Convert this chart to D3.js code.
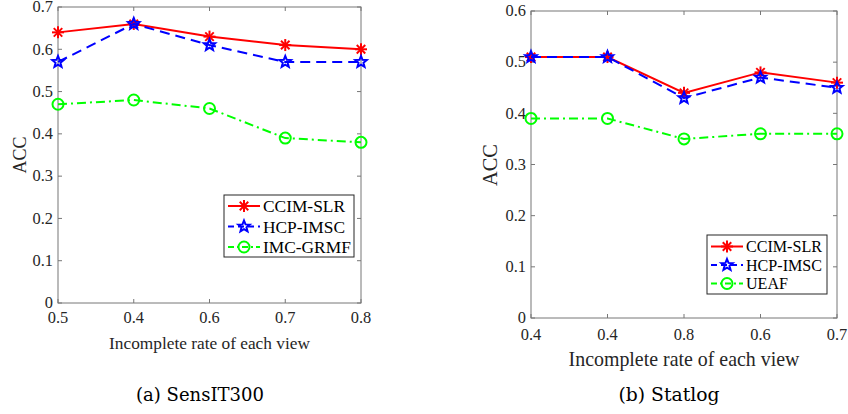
<!DOCTYPE html>
<meta charset="utf-8">
<style>

body {
  margin: 0;
  background: #fff;
}

text {
  font-family: "Liberation Serif", "Times New Roman", Times, serif;
}

text.caption {
  font-family: "DejaVu Serif", "Liberation Serif", serif;
}

</style>
<svg width="848" height="414"></svg>
<script src="https://d3js.org/d3.v7.min.js"></script>
<script>

// panel (a) SensIT300
var catsA = ["0.5", "0.4", "0.6", "0.7", "0.8"],
    ccimA = [0.64, 0.66, 0.63, 0.61, 0.60],
    hcpA = [0.57, 0.66, 0.61, 0.57, 0.57],
    imcA = [0.47, 0.48, 0.46, 0.39, 0.38],
    yTicksA = [0, 0.1, 0.2, 0.3, 0.4, 0.5, 0.6, 0.7];

// panel (b) Statlog
var catsB = ["0.4", "0.4 ", "0.8", "0.6", "0.7"],
    ccimB = [0.51, 0.51, 0.44, 0.48, 0.46],
    hcpB = [0.51, 0.51, 0.43, 0.47, 0.45],
    ueafB = [0.39, 0.39, 0.35, 0.36, 0.36],
    yTicksB = [0, 0.1, 0.2, 0.3, 0.4, 0.5, 0.6];

</script>
<script>

var svg = d3.select("svg");

var axisColor = "#777";

var styles = {
  red: {color: "#ff0000", dash: null, marker: "asterisk"},
  blue: {color: "#0000ff", dash: "10,6", marker: "star"},
  green: {color: "#00ff00", dash: "9,4,2,4", marker: "circle"}
};

// scale a text's font so that it spans about the width seen in the picture
function fit(sel, width) {
  var n = sel.node(),
      fs = +sel.attr("font-size"),
      w = n.getComputedTextLength();
  if (w > 0) sel.attr("font-size", (fs * width / w).toFixed(2));
  return sel;
}

// font size that makes "0.5" about 20.5px wide
var probe = svg.append("text").attr("font-size", 16).text("0.5");
var tickSize = 16 * 20.5 / probe.node().getComputedTextLength();
probe.remove();

function drawMarker(g, type, color, x, y) {
  if (type === "asterisk") {
    var r = 6;
    [0, 45, 90, 135].forEach(function(a) {
      var t = a * Math.PI / 180;
      g.append("line")
          .attr("x1", x - r * Math.cos(t)).attr("y1", y - r * Math.sin(t))
          .attr("x2", x + r * Math.cos(t)).attr("y2", y + r * Math.sin(t))
          .attr("stroke", color)
          .attr("stroke-width", 2);
    });
  } else if (type === "star") {
    var pts = [];
    for (var i = 0; i < 10; i++) {
      var rr = i % 2 ? 2.6 : 6,
          t = -Math.PI / 2 + i * Math.PI / 5;
      pts.push([x + rr * Math.cos(t), y + rr * Math.sin(t)]);
    }
    g.append("polygon")
        .attr("points", pts.map(function(p) { return p.join(","); }).join(" "))
        .attr("fill", "none")
        .attr("stroke", color)
        .attr("stroke-width", 2);
  } else {
    g.append("circle")
        .attr("cx", x).attr("cy", y).attr("r", 5.5)
        .attr("fill", "none")
        .attr("stroke", color)
        .attr("stroke-width", 2);
  }
}

function panel(o) {
  var g = svg.append("g");

  var x = d3.scalePoint().domain(o.cats).range([o.left, o.right]),
      y = d3.scaleLinear().domain([0, d3.max(o.yTicks)]).range([o.bottom, o.top]);

  // box
  g.append("rect")
      .attr("x", o.left).attr("y", o.top)
      .attr("width", o.right - o.left).attr("height", o.bottom - o.top)
      .attr("fill", "none")
      .attr("stroke", axisColor)
      .attr("stroke-width", 1);

  // ticks inside, on all four sides
  o.cats.forEach(function(c) {
    var px = x(c);
    g.append("line").attr("x1", px).attr("x2", px).attr("y1", o.bottom).attr("y2", o.bottom - 4).attr("stroke", axisColor);
    g.append("line").attr("x1", px).attr("x2", px).attr("y1", o.top).attr("y2", o.top + 4).attr("stroke", axisColor);
    g.append("text")
        .attr("x", px).attr("y", o.xTickY)
        .attr("dy", "0.35em")
        .attr("text-anchor", "middle")
        .attr("font-size", tickSize)
        .attr("fill", "#262626")
        .text(c.trim());
  });

  o.yTicks.forEach(function(v) {
    var py = y(v);
    g.append("line").attr("x1", o.left).attr("x2", o.left + 4).attr("y1", py).attr("y2", py).attr("stroke", axisColor);
    g.append("line").attr("x1", o.right).attr("x2", o.right - 4).attr("y1", py).attr("y2", py).attr("stroke", axisColor);
    g.append("text")
        .attr("x", o.left - 5).attr("y", py)
        .attr("dy", "0.32em")
        .attr("text-anchor", "end")
        .attr("font-size", tickSize)
        .attr("fill", "#262626")
        .text(v === 0 ? "0" : v.toFixed(1));
  });

  // axis labels
  fit(g.append("text")
      .attr("x", (o.left + o.right) / 2).attr("y", o.xLabelY)
      .attr("text-anchor", "middle")
      .attr("font-size", 16)
      .attr("fill", "#262626")
      .text("Incomplete rate of each view"), o.xLabelW);

  fit(g.append("text")
      .attr("transform", "translate(" + o.yLabelX + "," + o.yLabelY + ") rotate(-90)")
      .attr("text-anchor", "middle")
      .attr("font-size", 16)
      .attr("fill", "#262626")
      .text("ACC"), o.yLabelW);

  // series
  var line = d3.line()
      .x(function(d, i) { return x(o.cats[i]); })
      .y(function(d) { return y(d); });

  o.series.forEach(function(s) {
    var st = styles[s.style];
    g.append("path")
        .attr("d", line(s.values))
        .attr("fill", "none")
        .attr("stroke", st.color)
        .attr("stroke-width", 2)
        .attr("stroke-dasharray", st.dash);
    s.values.forEach(function(v, i) {
      drawMarker(g, st.marker, st.color, x(o.cats[i]), y(v));
    });
  });

  // legend
  var lg = g.append("g");
  lg.append("rect")
      .attr("x", o.legend.x).attr("y", o.legend.y)
      .attr("width", o.legend.w).attr("height", o.legend.h)
      .attr("fill", "#fff")
      .attr("stroke", "#262626")
      .attr("stroke-width", 1);

  var legendSize;
  o.series.forEach(function(s, i) {
    var st = styles[s.style],
        ly = o.legend.y + o.legend.pad + i * o.legend.step,
        lx = o.legend.x + 4;
    lg.append("line")
        .attr("x1", lx).attr("x2", lx + 32)
        .attr("y1", ly).attr("y2", ly)
        .attr("stroke", st.color)
        .attr("stroke-width", 2)
        .attr("stroke-dasharray", st.dash ? (s.style === "blue" ? "6,4" : "6,3,2,3") : null);
    drawMarker(lg, st.marker, st.color, lx + 16, ly);
    var t = lg.append("text")
        .attr("x", lx + 35).attr("y", ly)
        .attr("dy", "0.35em")
        .attr("font-size", legendSize || 16)
        .attr("fill", "#000")
        .text(s.name);
    if (i === 0) legendSize = +fit(t, o.legend.textW).attr("font-size");
  });

  // caption
  fit(g.append("text")
      .attr("class", "caption")
      .attr("x", o.captionX).attr("y", 401)
      .attr("text-anchor", "middle")
      .attr("font-size", 15)
      .attr("fill", "#000")
      .text(o.caption), o.captionW);
}

panel({
  cats: catsA, yTicks: yTicksA,
  left: 58, right: 361, top: 7, bottom: 303,
  xTickY: 317, xLabelY: 349, xLabelW: 201, yLabelX: 26, yLabelY: 155, yLabelW: 37,
  series: [
    {name: "CCIM-SLR", values: ccimA, style: "red"},
    {name: "HCP-IMSC", values: hcpA, style: "blue"},
    {name: "IMC-GRMF", values: imcA, style: "green"}
  ],
  legend: {x: 224, y: 195, w: 130, h: 62, pad: 11, step: 20.5, textW: 82},
  caption: "(a)  SensIT300", captionX: 200, captionW: 128
});

panel({
  cats: catsB, yTicks: yTicksB,
  left: 531, right: 837, top: 11, bottom: 318,
  xTickY: 334, xLabelY: 366, xLabelW: 231, yLabelX: 497, yLabelY: 165, yLabelW: 42,
  series: [
    {name: "CCIM-SLR", values: ccimB, style: "red"},
    {name: "HCP-IMSC", values: hcpB, style: "blue"},
    {name: "UEAF", values: ueafB, style: "green"}
  ],
  legend: {x: 707, y: 235, w: 120, h: 59, pad: 11.5, step: 18.5, textW: 76},
  caption: "(b)  Statlog", captionX: 669, captionW: 101
});

</script>
